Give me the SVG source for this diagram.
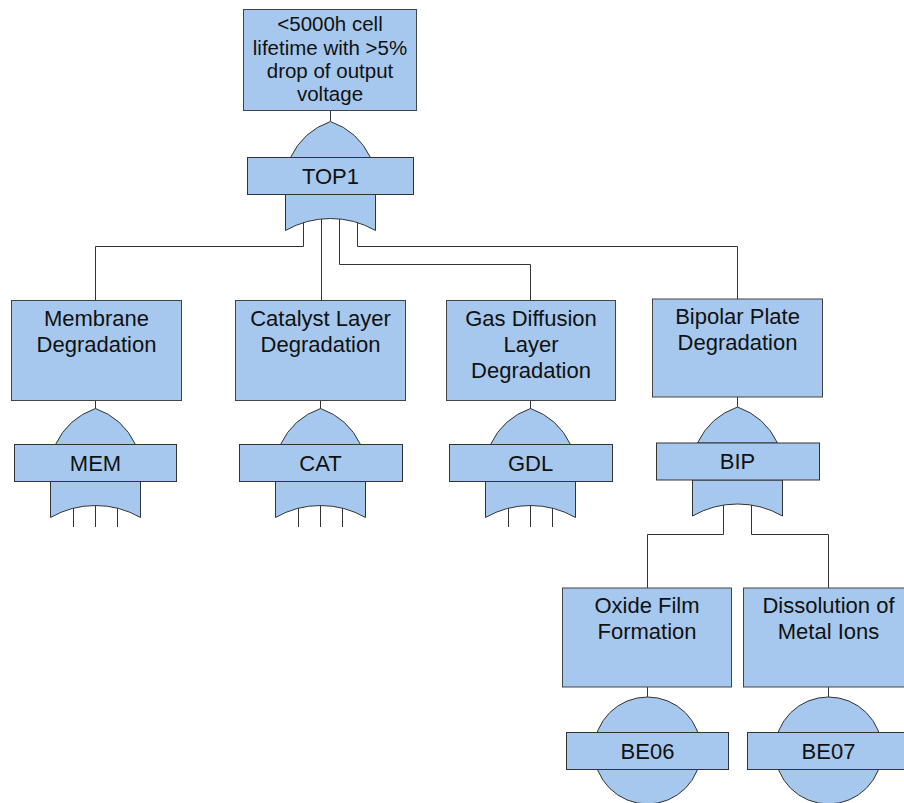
<svg xmlns="http://www.w3.org/2000/svg" width="904" height="803" viewBox="0 0 904 803">
  <style>
    .box { fill: #a6c8ee; stroke: #444; stroke-width: 1; }
    .gate { fill: #a6c8ee; stroke: #333; stroke-width: 1; }
    .wire { fill: none; stroke: #333; stroke-width: 1; }
    text { font-family: "Liberation Sans", Arial, sans-serif; font-size: 22px; fill: #111; text-anchor: middle; }
    .small { font-size: 20.5px; }
  </style>
  <defs>
    <!-- OR gate drawn around (0,0) = centre of the label band's top edge -->
    <g id="orGate">
      <path class="gate" d="M -40 0 A 70 70 0 0 1 0 -36 A 70 70 0 0 1 40 0 Z"/>
      <path class="gate" d="M -45 37 L 45 37 L 45 73 A 90.4 90.4 0 0 0 -45 73 Z"/>
    </g>
  </defs>

  <!-- connectors -->
  <g id="connectors" class="wire">
    <line x1="330.5" y1="110.5" x2="330.5" y2="121"/>
    <polyline points="303.5,221 303.5,246.5 95.5,246.5 95.5,300.5"/>
    <polyline points="321.5,218 321.5,300.5"/>
    <polyline points="339.5,218 339.5,264.5 530.5,264.5 530.5,300.5"/>
    <polyline points="357.5,221 357.5,246.5 737.5,246.5 737.5,299"/>
    <line x1="95.5" y1="400.5" x2="95.5" y2="409"/>
    <line x1="320.5" y1="400.5" x2="320.5" y2="409"/>
    <line x1="530.5" y1="400.5" x2="530.5" y2="409"/>
    <line x1="737.5" y1="397" x2="737.5" y2="407"/>
    <line x1="73.5" y1="508" x2="73.5" y2="527"/>
    <line x1="95.5" y1="505" x2="95.5" y2="527"/>
    <line x1="117.5" y1="508" x2="117.5" y2="527"/>
    <line x1="298.5" y1="508" x2="298.5" y2="527"/>
    <line x1="320.5" y1="505" x2="320.5" y2="527"/>
    <line x1="342.5" y1="508" x2="342.5" y2="527"/>
    <line x1="508.5" y1="508" x2="508.5" y2="527"/>
    <line x1="530.5" y1="505" x2="530.5" y2="527"/>
    <line x1="552.5" y1="508" x2="552.5" y2="527"/>
    <polyline points="723.5,505 723.5,534.5 647.5,534.5 647.5,588"/>
    <polyline points="751.5,505 751.5,534.5 828.5,534.5 828.5,588"/>
    <line x1="647.5" y1="687" x2="647.5" y2="697"/>
    <line x1="828.5" y1="687" x2="828.5" y2="697"/>
  </g>

  <!-- top event -->
  <g id="top-event">
    <rect class="box" x="243.5" y="9.5" width="173" height="101"/>
    <text class="small" x="330" y="31">&lt;5000h cell</text>
    <text class="small" x="330" y="55">lifetime with &gt;5%</text>
    <text class="small" x="330" y="78">drop of output</text>
    <text class="small" x="330" y="101">voltage</text>
  </g>
  <g id="gate-TOP1">
    <use href="#orGate" x="330.5" y="157.5"/>
    <rect class="gate" x="247.5" y="157.5" width="166" height="37"/>
    <text x="330.5" y="184">TOP1</text>
  </g>

  <!-- intermediate events -->
  <g id="membrane">
    <rect class="box" x="11.5" y="300.5" width="170" height="100"/>
    <text x="96.5" y="326">Membrane</text>
    <text x="96.5" y="352">Degradation</text>
  </g>
  <g id="gate-MEM">
    <use href="#orGate" x="95.5" y="444.5"/>
    <rect class="gate" x="14.5" y="444.5" width="162" height="37"/>
    <text x="95.5" y="471">MEM</text>
  </g>

  <g id="catalyst">
    <rect class="box" x="235.5" y="300.5" width="170" height="100"/>
    <text x="320.5" y="326">Catalyst Layer</text>
    <text x="320.5" y="352">Degradation</text>
  </g>
  <g id="gate-CAT">
    <use href="#orGate" x="320.5" y="444.5"/>
    <rect class="gate" x="239.5" y="444.5" width="163" height="37"/>
    <text x="320.5" y="471">CAT</text>
  </g>

  <g id="gas-diffusion">
    <rect class="box" x="446.5" y="300.5" width="169" height="100"/>
    <text x="531" y="326">Gas Diffusion</text>
    <text x="531" y="352">Layer</text>
    <text x="531" y="378">Degradation</text>
  </g>
  <g id="gate-GDL">
    <use href="#orGate" x="530.5" y="444.5"/>
    <rect class="gate" x="449.5" y="444.5" width="163" height="37"/>
    <text x="530.5" y="471">GDL</text>
  </g>

  <g id="bipolar">
    <rect class="box" x="652.5" y="299" width="170" height="98"/>
    <text x="737.5" y="324">Bipolar Plate</text>
    <text x="737.5" y="350">Degradation</text>
  </g>
  <g id="gate-BIP">
    <use href="#orGate" x="737.5" y="443"/>
    <rect class="gate" x="656.5" y="443" width="163" height="37"/>
    <text x="737.5" y="469">BIP</text>
  </g>

  <!-- basic events -->
  <g id="oxide-film">
    <rect class="box" x="562.5" y="588" width="169" height="99"/>
    <text x="647" y="613">Oxide Film</text>
    <text x="647" y="639">Formation</text>
  </g>
  <g id="event-BE06">
    <circle class="gate" cx="647.5" cy="750.5" r="53.5"/>
    <rect class="gate" x="566.5" y="732.5" width="162" height="37"/>
    <text x="647.5" y="759">BE06</text>
  </g>

  <g id="dissolution">
    <rect class="box" x="743.5" y="588" width="170" height="99"/>
    <text x="828.5" y="613">Dissolution of</text>
    <text x="828.5" y="639">Metal Ions</text>
  </g>
  <g id="event-BE07">
    <circle class="gate" cx="828.5" cy="750.5" r="53.5"/>
    <rect class="gate" x="747.5" y="732.5" width="162" height="37"/>
    <text x="828.5" y="759">BE07</text>
  </g>
</svg>
